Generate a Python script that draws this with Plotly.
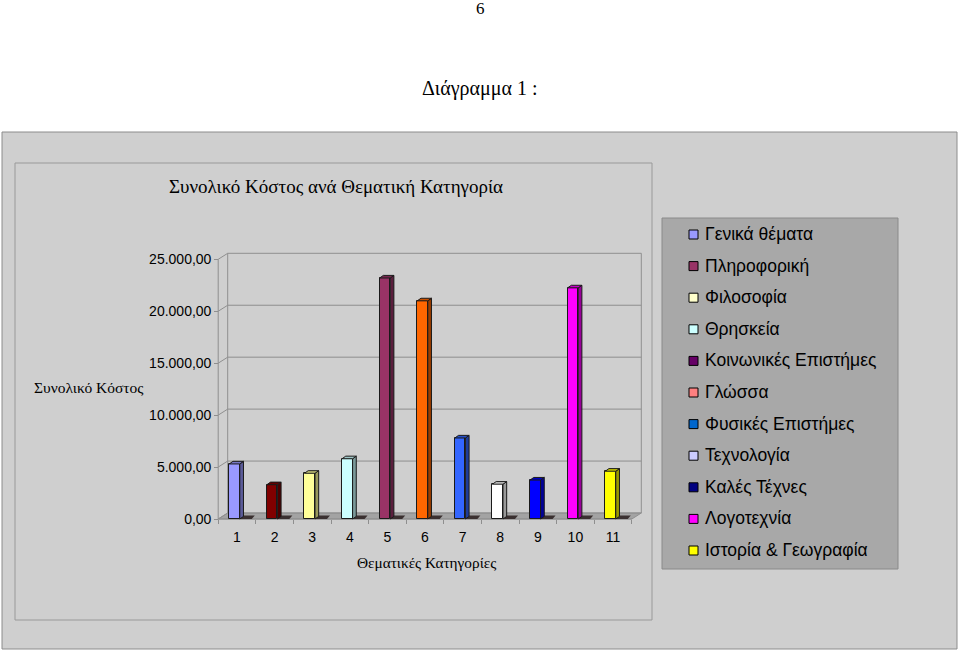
import plotly.graph_objects as go

# ---------------- data ----------------
categories = [str(i) for i in range(1, 12)]
cat_pos = list(range(1, 12))
values = [5300, 3300, 4400, 5800, 23200, 21000, 7800, 3350, 3750, 22250, 4600]
bar_colors = ["#9999ff", "#800000", "#ffff99", "#ccffff", "#993366", "#ff6600",
              "#3366ff", "#ffffff", "#0000ff", "#ff00ff", "#ffff00"]
legend_names = ["Γενικά θέματα", "Πληροφορική", "Φιλοσοφία", "Θρησκεία",
                "Κοινωνικές Επιστήμες", "Γλώσσα", "Φυσικές Επιστήμες", "Τεχνολογία",
                "Καλές Τέχνες", "Λογοτεχνία", "Ιστορία & Γεωγραφία"]
legend_colors = ["#9999ff", "#993366", "#ffffcc", "#ccffff", "#660066", "#ff8080",
                 "#0066cc", "#ccccff", "#000080", "#ff00ff", "#ffff00"]
y_ticks = [0, 5000, 10000, 15000, 20000, 25000]

title = "Συνολικό Κόστος ανά Θεματική Κατηγορία"
y_title = "Συνολικό Κόστος"
x_title = "Θεματικές Κατηγορίες"

# ---------------- layout geometry (pixels) ----------------
W, H = 959, 652
PX_X = 37.6            # pixels per category unit
PX_Y = 259.7 / 25000   # pixels per value unit
X0_PIX = 237           # pixel of category 1
Y0_PIX = 519           # pixel of value 0 (front)
plot_left, plot_right = 205, 648
plot_top, plot_bot = 245, 526

xr = [1 + (plot_left - X0_PIX) / PX_X, 1 + (plot_right - X0_PIX) / PX_X]
yr = [(Y0_PIX - plot_bot) / PX_Y, (Y0_PIX - plot_top) / PX_Y]

def px_dx(p):
    return p / PX_X

def px_dy(p):
    return p / PX_Y

SERIF = "Liberation Serif, Times New Roman, serif"
SANS = "Liberation Sans, Arial, sans-serif"

def shade(hexc, f):
    h = hexc.lstrip("#")
    r, g, b = int(h[0:2], 16), int(h[2:4], 16), int(h[4:6], 16)
    return "rgb(%d,%d,%d)" % (int(r * f), int(g * f), int(b * f))

fig = go.Figure()

bar_w = 0.28
bar_off = -0.206
fig.add_trace(go.Bar(
    x=cat_pos, y=values, width=bar_w, offset=bar_off,
    marker=dict(color=bar_colors, line=dict(color="#1a1a1a", width=1)),
    showlegend=False, hoverinfo="x+y",
))

shapes = []
# page boxes
shapes.append(dict(type="rect", xref="paper", yref="paper", layer="below",
                   x0=2 / W, x1=957 / W, y0=1 - 649 / H, y1=1 - 132 / H,
                   fillcolor="#cfcfcf", line=dict(color="#8c8c8c", width=1)))
shapes.append(dict(type="rect", xref="paper", yref="paper", layer="below",
                   x0=15 / W, x1=652 / W, y0=1 - 620 / H, y1=1 - 163 / H,
                   fillcolor="#cfcfcf", line=dict(color="#999999", width=1)))

# 3D walls
dxw, dyw = px_dx(9.5), px_dy(6)
xa, xb = 0.5, 11.5
gcol = "#8f8f8f"
# floor
shapes.append(dict(type="path", xref="x", yref="y", layer="below",
                   path="M %f,0 L %f,0 L %f,%f L %f,%f Z" % (xa, xb, xb + dxw, dyw, xa + dxw, dyw),
                   fillcolor="#a3a3a3", line=dict(color=gcol, width=1)))
for v in y_ticks:
    shapes.append(dict(type="line", xref="x", yref="y", layer="below",
                       x0=xa + dxw, x1=xb + dxw, y0=v + dyw, y1=v + dyw,
                       line=dict(color=gcol, width=1)))
    shapes.append(dict(type="line", xref="x", yref="y", layer="below",
                       x0=xa, x1=xa + dxw, y0=v, y1=v + dyw,
                       line=dict(color=gcol, width=1)))
shapes.append(dict(type="line", xref="x", yref="y", layer="below",
                   x0=xa + dxw, x1=xa + dxw, y0=dyw, y1=y_ticks[-1] + dyw,
                   line=dict(color=gcol, width=1)))
shapes.append(dict(type="line", xref="x", yref="y", layer="below",
                   x0=xb + dxw, x1=xb + dxw, y0=dyw, y1=y_ticks[-1] + dyw,
                   line=dict(color=gcol, width=1)))
shapes.append(dict(type="line", xref="x", yref="y", layer="below",
                   x0=xa, x1=xa, y0=0, y1=y_ticks[-1],
                   line=dict(color=gcol, width=1)))
shapes.append(dict(type="line", xref="x", yref="y", layer="below",
                   x0=xa, x1=xb, y0=0, y1=0,
                   line=dict(color=gcol, width=1)))

# bar 3D faces
bdx, bdy = px_dx(3.7), px_dy(2.6)
for c, v, col in zip(cat_pos, values, bar_colors):
    l = c + bar_off
    r = l + bar_w
    # floor shadow
    shapes.append(dict(type="path", xref="x", yref="y", layer="below",
                       path="M %f,0 L %f,0 L %f,%f L %f,%f Z" % (
                           r, r + px_dx(12), r + px_dx(15), px_dy(3.5), r + px_dx(3), px_dy(3.5)),
                       fillcolor="#3a3030", line=dict(width=0)))
    shapes.append(dict(type="path", xref="x", yref="y", layer="above",
                       path="M %f,0 L %f,%f L %f,%f L %f,%f Z" % (r, r + bdx, bdy, r + bdx, v + bdy, r, v),
                       fillcolor=shade(col, 0.6), line=dict(color="#1a1a1a", width=1)))
    shapes.append(dict(type="path", xref="x", yref="y", layer="above",
                       path="M %f,%f L %f,%f L %f,%f L %f,%f Z" % (l, v, l + bdx, v + bdy, r + bdx, v + bdy, r, v),
                       fillcolor=shade(col, 0.78), line=dict(color="#1a1a1a", width=1)))

# legend box
shapes.append(dict(type="rect", xref="paper", yref="paper", layer="below",
                   x0=662 / W, x1=898 / W, y0=1 - 569 / H, y1=1 - 218 / H,
                   fillcolor="#a8a8a8", line=dict(color="#8a8a8a", width=1)))

annotations = []
leg_y0, leg_dy = 234, 31.6
for k, (name, col) in enumerate(zip(legend_names, legend_colors)):
    yc = leg_y0 + k * leg_dy
    shapes.append(dict(type="rect", xref="paper", yref="paper", layer="above",
                       x0=689 / W, x1=698 / W, y0=1 - (yc + 5) / H, y1=1 - (yc - 4) / H,
                       fillcolor=col, line=dict(color="#000000", width=1)))
    annotations.append(dict(xref="paper", yref="paper", x=703 / W, y=1 - yc / H,
                            xanchor="left", yanchor="middle", showarrow=False,
                            text=name, font=dict(family=SANS, size=17.5, color="#000000")))

annotations += [
    dict(xref="paper", yref="paper", x=480 / W, y=1 - 8 / H, text="6", showarrow=False,
         xanchor="center", yanchor="middle", font=dict(family=SERIF, size=17, color="black")),
    dict(xref="paper", yref="paper", x=480 / W, y=1 - 88 / H, text="Διάγραμμα 1 :", showarrow=False,
         xanchor="center", yanchor="middle", font=dict(family=SERIF, size=20, color="black")),
    dict(xref="paper", yref="paper", x=336 / W, y=1 - 186 / H, text=title, showarrow=False,
         xanchor="center", yanchor="middle", font=dict(family=SERIF, size=19, color="black")),
    dict(xref="paper", yref="paper", x=88 / W, y=1 - 387 / H, text=y_title, showarrow=False,
         xanchor="center", yanchor="middle", font=dict(family=SERIF, size=15.5, color="black")),
    dict(xref="paper", yref="paper", x=426 / W, y=1 - 562 / H, text=x_title, showarrow=False,
         xanchor="center", yanchor="middle", font=dict(family=SERIF, size=15.3, color="black")),
]

fig.update_layout(
    width=W, height=H,
    margin=dict(l=0, r=0, t=0, b=0),
    paper_bgcolor="white", plot_bgcolor="rgba(0,0,0,0)",
    separators=",.",
    bargap=0,
    shapes=shapes, annotations=annotations,
    showlegend=False,
    xaxis=dict(domain=[plot_left / W, plot_right / W], range=xr, anchor="free",
               position=1 - Y0_PIX / H, showgrid=False, zeroline=False, showline=False,
               tickvals=cat_pos, ticktext=categories, ticks="", ticklabelstandoff=8,
               minor=dict(ticks="outside", tick0=0.5, dtick=1, ticklen=4, tickcolor=gcol),
               tickfont=dict(family=SANS, size=14, color="black"), fixedrange=True),
    yaxis=dict(domain=[1 - plot_bot / H, 1 - plot_top / H], range=yr, anchor="free",
               position=(237 + (0.5 - 1) * PX_X) / W, showgrid=False, zeroline=False,
               showline=False, tickvals=y_ticks, tickformat=",.2f", ticks="outside",
               ticklen=4, tickcolor=gcol,
               tickfont=dict(family=SANS, size=14, color="black"), fixedrange=True),
)

fig.write_html("out.html")
